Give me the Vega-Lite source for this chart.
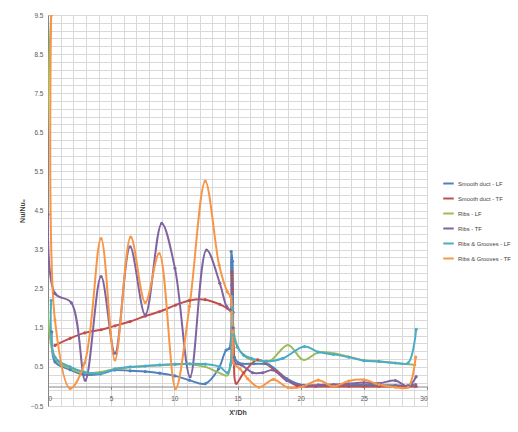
{
  "$schema": "https://vega.github.io/schema/vega-lite/v6.json",
  "width": 379,
  "height": 391,
  "autosize": {"type": "none"},
  "padding": {"left": 48, "top": 15, "right": 91, "bottom": 26},
  "background": "white",
  "config": {
    "view": {"stroke": "#a0a0a0", "strokeWidth": 1},
    "font": "Liberation Sans",
    "axis": {"labelOverlap": false},
    "axisY": {"labelOverlap": false}
  },
  "datasets": {
    "d": [
      {"s": "Smooth duct - LF", "x": 0.3, "y": 1.4},
      {"s": "Smooth duct - LF", "x": 0.55, "y": 0.63},
      {"s": "Smooth duct - LF", "x": 1.75, "y": 0.43},
      {"s": "Smooth duct - LF", "x": 2.85, "y": 0.3},
      {"s": "Smooth duct - LF", "x": 4.15, "y": 0.32},
      {"s": "Smooth duct - LF", "x": 5.3, "y": 0.42},
      {"s": "Smooth duct - LF", "x": 6.5, "y": 0.4},
      {"s": "Smooth duct - LF", "x": 7.7, "y": 0.38},
      {"s": "Smooth duct - LF", "x": 8.85, "y": 0.34},
      {"s": "Smooth duct - LF", "x": 10.05, "y": 0.27},
      {"s": "Smooth duct - LF", "x": 11.2, "y": 0.16},
      {"s": "Smooth duct - LF", "x": 12.45, "y": 0.07},
      {"s": "Smooth duct - LF", "x": 13.5, "y": 0.45},
      {"s": "Smooth duct - LF", "x": 14.1, "y": 0.93},
      {"s": "Smooth duct - LF", "x": 14.35, "y": 0.97},
      {"s": "Smooth duct - LF", "x": 14.5, "y": 3.45},
      {"s": "Smooth duct - LF", "x": 14.6, "y": 3.2},
      {"s": "Smooth duct - LF", "x": 14.65, "y": 1.9},
      {"s": "Smooth duct - LF", "x": 14.75, "y": 0.75},
      {"s": "Smooth duct - LF", "x": 15.1, "y": 0.6},
      {"s": "Smooth duct - LF", "x": 16.3, "y": 0.58},
      {"s": "Smooth duct - LF", "x": 17.5, "y": 0.55},
      {"s": "Smooth duct - LF", "x": 18.9, "y": 0.2},
      {"s": "Smooth duct - LF", "x": 20.2, "y": 0.03},
      {"s": "Smooth duct - LF", "x": 21.4, "y": 0.02},
      {"s": "Smooth duct - LF", "x": 22.6, "y": 0.02},
      {"s": "Smooth duct - LF", "x": 23.8, "y": 0.03},
      {"s": "Smooth duct - LF", "x": 25.0, "y": 0.04},
      {"s": "Smooth duct - LF", "x": 26.2, "y": 0.03},
      {"s": "Smooth duct - LF", "x": 27.5, "y": 0.03},
      {"s": "Smooth duct - LF", "x": 28.5, "y": 0.02},
      {"s": "Smooth duct - LF", "x": 29.1, "y": 0.05},

      {"s": "Smooth duct - TF", "x": 0.55, "y": 1.05},
      {"s": "Smooth duct - TF", "x": 1.75, "y": 1.23},
      {"s": "Smooth duct - TF", "x": 2.9, "y": 1.37},
      {"s": "Smooth duct - TF", "x": 4.2, "y": 1.45},
      {"s": "Smooth duct - TF", "x": 5.3, "y": 1.55},
      {"s": "Smooth duct - TF", "x": 6.5, "y": 1.66},
      {"s": "Smooth duct - TF", "x": 7.7, "y": 1.8},
      {"s": "Smooth duct - TF", "x": 8.8, "y": 1.91},
      {"s": "Smooth duct - TF", "x": 10.1, "y": 2.08},
      {"s": "Smooth duct - TF", "x": 11.2, "y": 2.2},
      {"s": "Smooth duct - TF", "x": 12.45, "y": 2.22},
      {"s": "Smooth duct - TF", "x": 13.6, "y": 2.1},
      {"s": "Smooth duct - TF", "x": 14.2, "y": 2.0},
      {"s": "Smooth duct - TF", "x": 14.45, "y": 1.95},
      {"s": "Smooth duct - TF", "x": 14.55, "y": 2.93},
      {"s": "Smooth duct - TF", "x": 14.6, "y": 2.5},
      {"s": "Smooth duct - TF", "x": 14.7, "y": 1.0},
      {"s": "Smooth duct - TF", "x": 14.9, "y": 0.08},
      {"s": "Smooth duct - TF", "x": 15.5, "y": 0.35},
      {"s": "Smooth duct - TF", "x": 16.6, "y": 0.68},
      {"s": "Smooth duct - TF", "x": 18.1, "y": 0.38},
      {"s": "Smooth duct - TF", "x": 19.7, "y": 0.02},
      {"s": "Smooth duct - TF", "x": 21.2, "y": 0.0},
      {"s": "Smooth duct - TF", "x": 22.6, "y": 0.0},
      {"s": "Smooth duct - TF", "x": 23.8, "y": 0.0},
      {"s": "Smooth duct - TF", "x": 25.0, "y": 0.0},
      {"s": "Smooth duct - TF", "x": 26.2, "y": 0.0},
      {"s": "Smooth duct - TF", "x": 27.5, "y": 0.0},
      {"s": "Smooth duct - TF", "x": 28.5, "y": 0.0},
      {"s": "Smooth duct - TF", "x": 29.14, "y": 0.0},

      {"s": "Ribs - LF", "x": 0.25, "y": 9.5},
      {"s": "Ribs - LF", "x": 0.55, "y": 0.72},
      {"s": "Ribs - LF", "x": 1.75, "y": 0.46},
      {"s": "Ribs - LF", "x": 2.85, "y": 0.33},
      {"s": "Ribs - LF", "x": 4.15, "y": 0.37},
      {"s": "Ribs - LF", "x": 5.3, "y": 0.44},
      {"s": "Ribs - LF", "x": 6.5, "y": 0.49},
      {"s": "Ribs - LF", "x": 7.7, "y": 0.52},
      {"s": "Ribs - LF", "x": 8.85, "y": 0.54},
      {"s": "Ribs - LF", "x": 10.05, "y": 0.56},
      {"s": "Ribs - LF", "x": 11.2, "y": 0.57},
      {"s": "Ribs - LF", "x": 12.45, "y": 0.5},
      {"s": "Ribs - LF", "x": 13.6, "y": 0.34},
      {"s": "Ribs - LF", "x": 14.2, "y": 0.28},
      {"s": "Ribs - LF", "x": 14.45, "y": 0.6},
      {"s": "Ribs - LF", "x": 14.6, "y": 1.8},
      {"s": "Ribs - LF", "x": 14.75, "y": 1.3},
      {"s": "Ribs - LF", "x": 15.2, "y": 0.9},
      {"s": "Ribs - LF", "x": 15.8, "y": 0.72},
      {"s": "Ribs - LF", "x": 16.8, "y": 0.66},
      {"s": "Ribs - LF", "x": 17.6, "y": 0.66},
      {"s": "Ribs - LF", "x": 19.0, "y": 1.06},
      {"s": "Ribs - LF", "x": 20.2, "y": 0.68},
      {"s": "Ribs - LF", "x": 21.4, "y": 0.87},
      {"s": "Ribs - LF", "x": 22.6, "y": 0.85},
      {"s": "Ribs - LF", "x": 23.8, "y": 0.76},
      {"s": "Ribs - LF", "x": 25.0, "y": 0.67},
      {"s": "Ribs - LF", "x": 26.2, "y": 0.64},
      {"s": "Ribs - LF", "x": 27.5, "y": 0.6},
      {"s": "Ribs - LF", "x": 28.5, "y": 0.57},
      {"s": "Ribs - LF", "x": 29.14, "y": 0.55},

      {"s": "Ribs - TF", "x": 0.0, "y": 4.4},
      {"s": "Ribs - TF", "x": 0.55, "y": 2.38},
      {"s": "Ribs - TF", "x": 1.85, "y": 2.14},
      {"s": "Ribs - TF", "x": 2.95, "y": 0.16},
      {"s": "Ribs - TF", "x": 4.2, "y": 2.81},
      {"s": "Ribs - TF", "x": 5.3, "y": 0.85},
      {"s": "Ribs - TF", "x": 6.5, "y": 3.57},
      {"s": "Ribs - TF", "x": 7.7, "y": 1.83},
      {"s": "Ribs - TF", "x": 9.0, "y": 4.17},
      {"s": "Ribs - TF", "x": 10.05, "y": 3.02},
      {"s": "Ribs - TF", "x": 11.25, "y": 0.25},
      {"s": "Ribs - TF", "x": 12.55, "y": 3.49},
      {"s": "Ribs - TF", "x": 13.6, "y": 2.64},
      {"s": "Ribs - TF", "x": 14.15, "y": 2.04},
      {"s": "Ribs - TF", "x": 14.45, "y": 1.95},
      {"s": "Ribs - TF", "x": 14.55, "y": 2.6},
      {"s": "Ribs - TF", "x": 14.65, "y": 1.5},
      {"s": "Ribs - TF", "x": 14.8, "y": 0.6},
      {"s": "Ribs - TF", "x": 15.3, "y": 0.55},
      {"s": "Ribs - TF", "x": 16.2, "y": 0.35},
      {"s": "Ribs - TF", "x": 17.0, "y": 0.35},
      {"s": "Ribs - TF", "x": 17.8, "y": 0.42},
      {"s": "Ribs - TF", "x": 18.9, "y": 0.15},
      {"s": "Ribs - TF", "x": 20.2, "y": 0.02},
      {"s": "Ribs - TF", "x": 21.4, "y": 0.04},
      {"s": "Ribs - TF", "x": 22.6, "y": 0.05},
      {"s": "Ribs - TF", "x": 23.8, "y": 0.07},
      {"s": "Ribs - TF", "x": 25.0, "y": 0.1},
      {"s": "Ribs - TF", "x": 26.2, "y": 0.08},
      {"s": "Ribs - TF", "x": 27.5, "y": 0.15},
      {"s": "Ribs - TF", "x": 28.5, "y": 0.0},
      {"s": "Ribs - TF", "x": 29.14, "y": 0.25},

      {"s": "Ribs & Grooves - LF", "x": 0.25, "y": 2.2},
      {"s": "Ribs & Grooves - LF", "x": 0.55, "y": 0.75},
      {"s": "Ribs & Grooves - LF", "x": 1.75, "y": 0.5},
      {"s": "Ribs & Grooves - LF", "x": 2.85, "y": 0.37},
      {"s": "Ribs & Grooves - LF", "x": 4.15, "y": 0.33},
      {"s": "Ribs & Grooves - LF", "x": 5.3, "y": 0.45},
      {"s": "Ribs & Grooves - LF", "x": 6.5, "y": 0.5},
      {"s": "Ribs & Grooves - LF", "x": 7.7, "y": 0.52},
      {"s": "Ribs & Grooves - LF", "x": 8.85, "y": 0.55},
      {"s": "Ribs & Grooves - LF", "x": 10.05, "y": 0.57},
      {"s": "Ribs & Grooves - LF", "x": 11.2, "y": 0.58},
      {"s": "Ribs & Grooves - LF", "x": 12.45, "y": 0.57},
      {"s": "Ribs & Grooves - LF", "x": 13.6, "y": 0.5},
      {"s": "Ribs & Grooves - LF", "x": 14.2, "y": 0.35},
      {"s": "Ribs & Grooves - LF", "x": 14.45, "y": 0.55},
      {"s": "Ribs & Grooves - LF", "x": 14.55, "y": 2.3},
      {"s": "Ribs & Grooves - LF", "x": 14.62, "y": 2.0},
      {"s": "Ribs & Grooves - LF", "x": 14.7, "y": 1.3},
      {"s": "Ribs & Grooves - LF", "x": 15.0, "y": 1.0},
      {"s": "Ribs & Grooves - LF", "x": 15.5, "y": 0.8},
      {"s": "Ribs & Grooves - LF", "x": 16.1, "y": 0.72},
      {"s": "Ribs & Grooves - LF", "x": 17.3, "y": 0.64},
      {"s": "Ribs & Grooves - LF", "x": 18.6, "y": 0.72},
      {"s": "Ribs & Grooves - LF", "x": 20.3, "y": 1.02},
      {"s": "Ribs & Grooves - LF", "x": 21.4, "y": 0.88},
      {"s": "Ribs & Grooves - LF", "x": 22.6, "y": 0.82},
      {"s": "Ribs & Grooves - LF", "x": 23.8, "y": 0.75},
      {"s": "Ribs & Grooves - LF", "x": 25.0, "y": 0.66},
      {"s": "Ribs & Grooves - LF", "x": 26.2, "y": 0.64},
      {"s": "Ribs & Grooves - LF", "x": 27.5, "y": 0.6},
      {"s": "Ribs & Grooves - LF", "x": 28.5, "y": 0.6},
      {"s": "Ribs & Grooves - LF", "x": 29.14, "y": 1.46},

      {"s": "Ribs & Grooves - TF", "x": 0.25, "y": 9.5},
      {"s": "Ribs & Grooves - TF", "x": 0.55, "y": 1.7},
      {"s": "Ribs & Grooves - TF", "x": 1.75, "y": -0.05},
      {"s": "Ribs & Grooves - TF", "x": 2.9, "y": 0.6},
      {"s": "Ribs & Grooves - TF", "x": 4.2, "y": 3.78},
      {"s": "Ribs & Grooves - TF", "x": 5.3, "y": 0.68},
      {"s": "Ribs & Grooves - TF", "x": 6.55, "y": 3.82},
      {"s": "Ribs & Grooves - TF", "x": 7.7, "y": 2.15},
      {"s": "Ribs & Grooves - TF", "x": 8.8, "y": 3.4},
      {"s": "Ribs & Grooves - TF", "x": 10.1, "y": -0.05},
      {"s": "Ribs & Grooves - TF", "x": 11.2, "y": 2.05},
      {"s": "Ribs & Grooves - TF", "x": 12.45, "y": 5.25},
      {"s": "Ribs & Grooves - TF", "x": 13.55, "y": 3.1},
      {"s": "Ribs & Grooves - TF", "x": 14.2, "y": 2.42},
      {"s": "Ribs & Grooves - TF", "x": 14.45, "y": 2.3},
      {"s": "Ribs & Grooves - TF", "x": 14.55, "y": 1.9},
      {"s": "Ribs & Grooves - TF", "x": 14.6, "y": 1.4},
      {"s": "Ribs & Grooves - TF", "x": 14.63, "y": 1.0},
      {"s": "Ribs & Grooves - TF", "x": 14.67, "y": 0.6},
      {"s": "Ribs & Grooves - TF", "x": 15.2, "y": 0.45},
      {"s": "Ribs & Grooves - TF", "x": 15.8, "y": 0.2},
      {"s": "Ribs & Grooves - TF", "x": 16.7, "y": -0.02},
      {"s": "Ribs & Grooves - TF", "x": 17.85, "y": 0.18},
      {"s": "Ribs & Grooves - TF", "x": 19.0, "y": -0.03},
      {"s": "Ribs & Grooves - TF", "x": 20.2, "y": 0.0},
      {"s": "Ribs & Grooves - TF", "x": 21.4, "y": 0.16},
      {"s": "Ribs & Grooves - TF", "x": 22.6, "y": 0.0},
      {"s": "Ribs & Grooves - TF", "x": 23.8, "y": 0.14},
      {"s": "Ribs & Grooves - TF", "x": 25.0, "y": 0.17},
      {"s": "Ribs & Grooves - TF", "x": 26.2, "y": 0.05},
      {"s": "Ribs & Grooves - TF", "x": 27.5, "y": -0.02},
      {"s": "Ribs & Grooves - TF", "x": 28.5, "y": -0.02},
      {"s": "Ribs & Grooves - TF", "x": 29.1, "y": 0.75}
    ]
  },
  "data": {"name": "d"},
  "layer": [
    {
      "mark": {"type": "line", "interpolate": "catmull-rom", "strokeWidth": 2, "clip": true},
      "encoding": {
        "x": {
          "field": "x", "type": "quantitative",
          "scale": {"domain": [0, 30], "nice": false, "zero": false},
          "axis": {
            "orient": "bottom",
            "values": [0,1,2,3,4,5,6,7,8,9,10,11,12,13,14,15,16,17,18,19,20,21,22,23,24,25,26,27,28,29,30],
            "grid": true, "gridColor": "#d9d9d9", "gridWidth": 1,
            "labels": false, "ticks": false, "domain": false, "title": null
          }
        },
        "y": {
          "field": "y", "type": "quantitative",
          "scale": {"domain": [-0.5, 9.5], "nice": false, "zero": false},
          "axis": {
            "values": [-0.5,-0.3,-0.1,0.1,0.3,0.5,0.7,0.9,1.1,1.3,1.5,1.7,1.9,2.1,2.3,2.5,2.7,2.9,3.1,3.3,3.5,3.7,3.9,4.1,4.3,4.5,4.7,4.9,5.1,5.3,5.5,5.7,5.9,6.1,6.3,6.5,6.7,6.9,7.1,7.3,7.5,7.7,7.9,8.1,8.3,8.5,8.7,8.9,9.1,9.3,9.5],
            "labelExpr": "round((datum.value + 0.5) * 10) % 10 == 0 ? format(datum.value, '.1f') : ''",
            "labelOverlap": false, "labelBound": false,
            "grid": true, "gridColor": "#d9d9d9", "gridWidth": 1,
            "ticks": false, "domain": true, "domainColor": "#868686",
            "labelFontSize": 6.5, "labelColor": "#595959", "labelPadding": 5,
            "title": "Nu/Nu₀", "titleFontSize": 7, "titleColor": "#404040",
            "titleFontWeight": "bold", "titlePadding": 5
          }
        },
        "color": {
          "field": "s", "type": "nominal",
          "scale": {
            "domain": ["Smooth duct - LF", "Smooth duct - TF", "Ribs - LF", "Ribs - TF", "Ribs & Grooves - LF", "Ribs & Grooves - TF"],
            "range": ["#4F81BD", "#C0504D", "#9BBB59", "#8064A2", "#4BACC6", "#F79646"]
          },
          "legend": {
            "orient": "none", "legendX": 394, "legendY": 162, "title": null,
            "symbolType": "stroke", "symbolStrokeWidth": 2, "symbolSize": 110,
            "labelFontSize": 5.8, "labelColor": "#404040", "rowPadding": 4, "labelOffset": 3
          }
        }
      }
    },
    {
      "transform": [{"filter": "datum.s != 'Ribs - LF'"}],
      "mark": {"type": "point", "filled": true, "size": 10, "opacity": 1, "clip": true},
      "encoding": {
        "x": {
          "field": "x", "type": "quantitative",
          "scale": {"domain": [0, 30], "nice": false, "zero": false},
          "axis": {
            "orient": "bottom", "offset": -19.5,
            "values": [0, 5, 10, 15, 20, 25, 30],
            "grid": false, "domain": true, "domainColor": "#868686",
            "ticks": true, "tickSize": 3, "tickColor": "#868686",
            "labelFontSize": 6.5, "labelColor": "#595959", "labelPadding": 6,
            "title": "X'/Dh", "titleFontSize": 7, "titleColor": "#404040",
            "titleFontWeight": "bold", "titlePadding": 6
          }
        },
        "y": {
          "field": "y", "type": "quantitative",
          "axis": {
            "values": [-0.5,-0.3,-0.1,0.1,0.3,0.5,0.7,0.9,1.1,1.3,1.5,1.7,1.9,2.1,2.3,2.5,2.7,2.9,3.1,3.3,3.5,3.7,3.9,4.1,4.3,4.5,4.7,4.9,5.1,5.3,5.5,5.7,5.9,6.1,6.3,6.5,6.7,6.9,7.1,7.3,7.5,7.7,7.9,8.1,8.3,8.5,8.7,8.9,9.1,9.3,9.5],
            "labelExpr": "round((datum.value + 0.5) * 10) % 10 == 0 ? format(datum.value, '.1f') : ''",
            "labelOverlap": false, "labelBound": false,
            "grid": true, "gridColor": "#d9d9d9", "gridWidth": 1,
            "ticks": false, "domain": true, "domainColor": "#868686",
            "labelFontSize": 6.5, "labelColor": "#595959", "labelPadding": 5,
            "title": "Nu/Nu₀", "titleFontSize": 7, "titleColor": "#404040",
            "titleFontWeight": "bold", "titlePadding": 5
          }
        },
        "color": {"field": "s", "type": "nominal"}
      }
    }
  ],
  "resolve": {"axis": {"x": "independent"}}
}
